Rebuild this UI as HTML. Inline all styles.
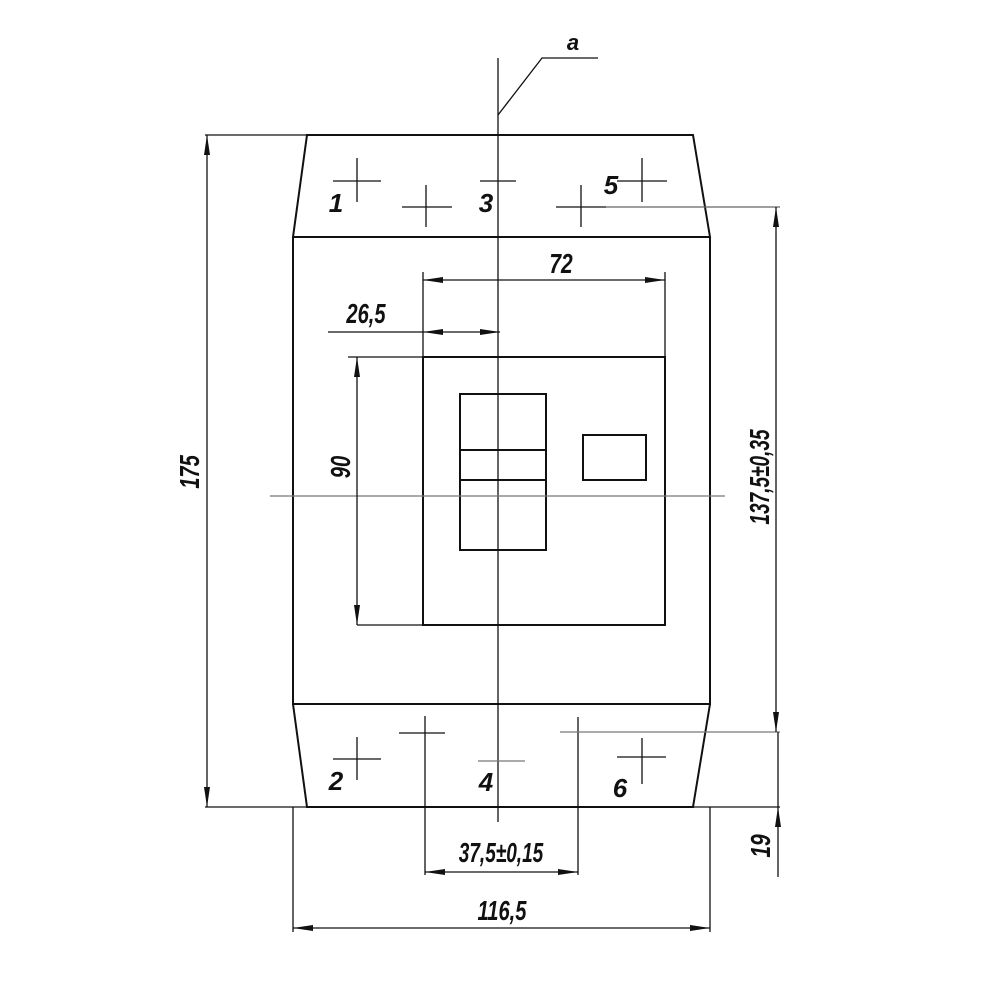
<!DOCTYPE html>
<html><head><meta charset="utf-8"><style>html,body{margin:0;padding:0;background:#fff}svg{display:block}</style></head>
<body>
<svg width="1000" height="1000" viewBox="0 0 1000 1000" xmlns="http://www.w3.org/2000/svg">
<defs>
<marker id="ar" viewBox="0 0 20 6" refX="20" refY="3" markerWidth="20" markerHeight="6" markerUnits="userSpaceOnUse" orient="auto-start-reverse"><path d="M0,0 L20,3 L0,6 Z" fill="#111"/></marker>
</defs>
<g stroke="#111" fill="none" stroke-width="2">
<path d="M307,135 L693,135 L710,237 L293,237 Z"/>
<path d="M293,237 L293,704 L710,704 L710,237"/>
<path d="M293,704 L307,807 L693,807 L710,704"/>
<rect x="423" y="357" width="242" height="268"/>
<rect x="460" y="394" width="86" height="156"/>
<line x1="460" y1="450" x2="546" y2="450"/>
<line x1="460" y1="480" x2="546" y2="480"/>
<rect x="583" y="435" width="63" height="45"/>
</g>
<g stroke="#111" fill="none" stroke-width="1.3">
<line x1="498" y1="58" x2="498" y2="822"/>
<polyline points="498,115 542,58 598,58"/>
<line x1="205" y1="807" x2="780" y2="807"/>
<line x1="205" y1="135" x2="307" y2="135"/>
<line x1="333" y1="181" x2="381" y2="181"/><line x1="357" y1="158" x2="357" y2="202"/>
<line x1="402" y1="207" x2="452" y2="207"/><line x1="426" y1="185" x2="426" y2="227"/>
<line x1="480" y1="181" x2="516" y2="181"/>
<line x1="556" y1="207" x2="606" y2="207"/><line x1="581" y1="185" x2="581" y2="227"/>
<line x1="617" y1="181" x2="667" y2="181"/><line x1="642" y1="158" x2="642" y2="202"/>
<line x1="606" y1="207" x2="780" y2="207" stroke="#666"/>
<line x1="333" y1="759" x2="381" y2="759"/><line x1="357" y1="737" x2="357" y2="780"/>
<line x1="399" y1="733" x2="445" y2="733"/><line x1="425" y1="716" x2="425" y2="875"/>
<line x1="478" y1="761" x2="525" y2="761" stroke="#777"/>
<line x1="578" y1="717" x2="578" y2="875"/>
<line x1="560" y1="732" x2="780" y2="732" stroke="#777"/>
<line x1="617" y1="757" x2="666" y2="757"/><line x1="642" y1="738" x2="642" y2="784"/>
<line x1="270" y1="496" x2="725" y2="496" stroke="#777"/>
<line x1="207" y1="135" x2="207" y2="807" marker-start="url(#ar)" marker-end="url(#ar)"/>
<line x1="776" y1="207" x2="776" y2="732" marker-start="url(#ar)" marker-end="url(#ar)"/>
<line x1="778" y1="732" x2="778" y2="807"/>
<line x1="778" y1="877" x2="778" y2="807" marker-end="url(#ar)"/>
<line x1="423" y1="272" x2="423" y2="357"/><line x1="665" y1="272" x2="665" y2="357"/>
<line x1="423" y1="280" x2="665" y2="280" marker-start="url(#ar)" marker-end="url(#ar)"/>
<line x1="328" y1="332" x2="423" y2="332"/>
<line x1="423" y1="332" x2="500" y2="332" marker-start="url(#ar)" marker-end="url(#ar)"/>
<line x1="348" y1="357" x2="423" y2="357"/><line x1="357" y1="625" x2="423" y2="625"/>
<line x1="357" y1="357" x2="357" y2="625" marker-start="url(#ar)" marker-end="url(#ar)"/>
<line x1="425" y1="872" x2="578" y2="872" marker-start="url(#ar)" marker-end="url(#ar)"/>
<line x1="293" y1="807" x2="293" y2="932"/><line x1="710" y1="807" x2="710" y2="932"/>
<line x1="293" y1="928" x2="710" y2="928" marker-start="url(#ar)" marker-end="url(#ar)"/>
</g>
<g font-family="Liberation Sans, sans-serif" font-style="italic" font-weight="bold" font-size="28" fill="#111" text-anchor="middle">
<text x="573" y="50" font-size="22">a</text>
<text x="336" y="212" font-size="26">1</text>
<text x="486" y="212" font-size="26">3</text>
<text x="611" y="194" font-size="26">5</text>
<text x="336" y="790" font-size="26">2</text>
<text x="486" y="791" font-size="26">4</text>
<text x="620" y="797" font-size="26">6</text>
<text transform="translate(561,273) scale(0.75,1)">72</text>
<text transform="translate(366,323) scale(0.72,1)">26,5</text>
<text transform="translate(501,862) scale(0.68,1)">37,5±0,15</text>
<text transform="translate(502,920) scale(0.72,1)">116,5</text>
<text transform="translate(199,472) rotate(-90) scale(0.72,1)">175</text>
<text transform="translate(350,467) rotate(-90) scale(0.72,1)">90</text>
<text transform="translate(769,477) rotate(-90) scale(0.68,1)">137,5±0,35</text>
<text transform="translate(770,846) rotate(-90) scale(0.75,1)">19</text>
</g>
</svg>
</body></html>
